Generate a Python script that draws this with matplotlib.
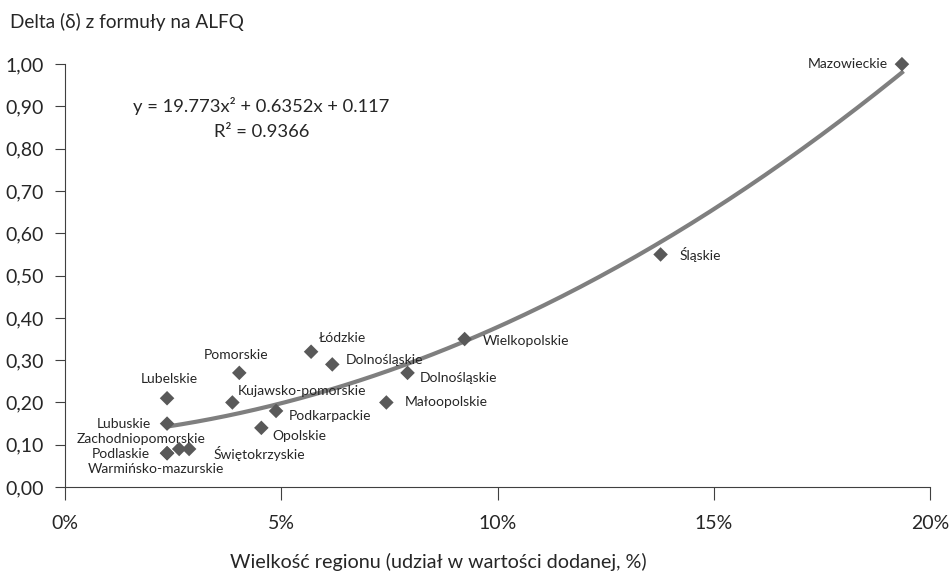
import numpy as np
import matplotlib.pyplot as plt
from matplotlib.ticker import FuncFormatter

# data
regions = ['Mazowieckie', 'Śląskie', 'Wielkopolskie', 'Dolnośląskie', 'Małoopolskie',
           'Łódzkie', 'Dolnośląskie', 'Pomorskie', 'Kujawsko-pomorskie', 'Podkarpackie',
           'Opolskie', 'Lubelskie', 'Lubuskie', 'Podlaskie', 'Zachodniopomorskie',
           'Świętokrzyskie', 'Warmińsko-mazurskie']
share = [19.35, 13.77, 9.24, 7.92, 7.43,
         5.69, 6.18, 4.03, 3.87, 4.88,
         4.54, 2.36, 2.36, 2.36, 2.64,
         2.87, 2.36]
delta = [1.00, 0.55, 0.35, 0.27, 0.20,
         0.32, 0.29, 0.27, 0.20, 0.18,
         0.14, 0.21, 0.15, 0.08, 0.09,
         0.09, 0.08]
coef = [19.773, 0.6352, 0.117]
r2 = 0.9366

# label offsets in pixels (dx, dy) and alignment
label_pos = [(-14, 0, 'right'), (19, 0, 'left'), (18, -2, 'left'), (12, -5, 'left'), (18, 0, 'left'),
             (8, 14, 'left'), (13, 4, 'left'), (-3, 18, 'center'), (5, 11, 'left'), (13, -5, 'left'),
             (11, -8, 'left'), (2, 19, 'center'), (-16, 0, 'right'), (-17, -1, 'right'), (-38, 10, 'center'),
             (24, -5, 'left'), (-11, -16, 'center')]

plt.rcParams['font.family'] = ['Lato', 'DejaVu Sans']
dark = '#595959'
txt = '#262626'

fig = plt.figure(figsize=(9.5, 5.73), dpi=100)
ax = fig.add_axes([0.0684, 0.150, 0.9106, 0.738])

xs = np.linspace(min(share), max(share), 200) / 100
ax.plot(xs * 100, np.polyval(coef, xs), color='#7f7f7f', lw=3, zorder=2)
ax.scatter(share, delta, marker='D', s=55, color=dark, zorder=3, edgecolors='none', clip_on=False)

for name, x, y, (dx, dy, ha) in zip(regions, share, delta, label_pos):
    ax.annotate(name, (x, y), xytext=(dx, dy), textcoords='offset pixels',
                ha=ha, va='center', fontsize=10, color=txt)

ax.set_xlim(0, 20)
ax.set_ylim(0, 1.0)
ax.set_xticks([0, 5, 10, 15, 20])
ax.set_yticks(np.arange(0, 1.01, 0.1))
ax.xaxis.set_major_formatter(FuncFormatter(lambda v, p: f'{v:.0f}%'))
ax.yaxis.set_major_formatter(FuncFormatter(lambda v, p: f'{v:.2f}'.replace('.', ',')))
for s in ['top', 'right']:
    ax.spines[s].set_visible(False)
for s in ['left', 'bottom']:
    ax.spines[s].set_color('#404040')
ax.tick_params(axis='x', direction='out', length=9, pad=11, labelsize=14, color='#404040', labelcolor=txt)
ax.tick_params(axis='y', direction='out', length=7, pad=8, labelsize=14, color='#404040', labelcolor=txt)

ax.text(0.227, 0.902, f'y = {coef[0]}x² + {coef[1]}x + {coef[2]}', transform=ax.transAxes,
        ha='center', va='center', fontsize=13.2, color=txt)
ax.text(0.227, 0.840, f'R² = {r2}', transform=ax.transAxes,
        ha='center', va='center', fontsize=13.2, color=txt)

fig.text(0.011, 0.962, 'Delta (δ) z formuły na ALFQ', ha='left', va='center', fontsize=13.7, color=txt)
fig.text(0.461, 0.019, 'Wielkość regionu (udział w wartości dodanej, %)', ha='center', va='center',
         fontsize=14.2, color=txt)

fig.savefig('out.png', dpi=100)
